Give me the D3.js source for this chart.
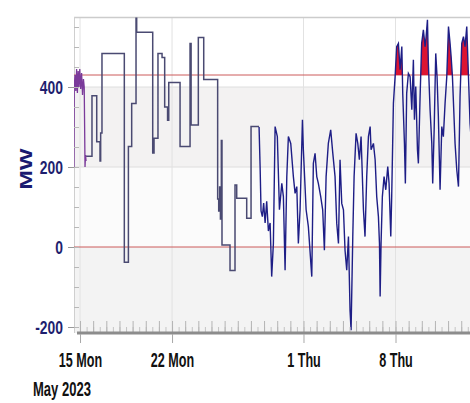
<!DOCTYPE html>
<html>
<head>
<meta charset="utf-8">
<script src="https://cdn.jsdelivr.net/npm/d3@7"></script>
<style>
  body { margin: 0; background: #fff; }
  svg { display: block; }
  text { font-family: "Liberation Sans", Arial, sans-serif; font-weight: bold; }
</style>
</head>
<body>
<svg id="chart" width="470" height="403"></svg>
<script>
// Times are day offsets from 15 May 2023 00:00, values in MW

// measured output, first hours of the period
const earlyDays = [-0.46, -0.44, -0.38, -0.32, -0.26, -0.20, -0.14, -0.08, -0.02, 0.05, 0.12, 0.19, 0.26, 0.32, 0.38, 0.42, 0.46];
const earlyMW   = [200, 400, 430, 390, 445, 385, 440, 400, 445, 395, 435, 380, 420, 400, 200, 230, 215];

// stepped schedule between the measured blocks
const stepDays = [0.46, 0.91, 1.27, 1.52, 1.57, 1.67, 3.37, 3.68, 3.93, 4.26, 4.31, 5.53, 5.63, 5.93, 6.24, 6.44, 6.66, 6.75,
                  7.61, 8.37, 8.45, 9.00, 9.41, 10.47, 10.55, 10.62, 10.68, 10.75, 10.80, 11.41, 11.79, 11.92, 12.68, 13.01, 13.62];
const stepMW   = [227, 378, 263, 215, 285, 484, -38, 251, 359, 572, 537, 235, 272, 484, 474, 350, 317, 411,
                  251, 509, 305, 524, 419, 120, 90, 150, 70, 266, 5, -59, 155, 122, 72, 301, 301];

// measured output, last weeks
const lateDays = [13.62, 13.70, 13.77, 13.87, 13.97, 14.08, 14.20, 14.33, 14.46, 14.58, 14.71, 14.84, 15.01, 15.17, 15.35, 15.47,
                  15.60, 15.73, 15.85, 16.03, 16.23, 16.36, 16.49, 16.61, 16.74, 16.92, 16.99, 17.20, 17.37, 17.63, 17.75, 17.88,
                  18.01, 18.13, 18.31, 18.46, 18.59, 18.72, 18.89, 19.07, 19.23, 19.40, 19.53, 19.66, 19.78, 19.91, 20.04, 20.16,
                  20.29, 20.42, 20.54, 20.62, 20.75, 20.85, 21.00, 21.13, 21.25, 21.38, 21.56, 21.68, 21.81, 21.94, 22.07, 22.14,
                  22.32, 22.45, 22.57, 22.70, 22.78, 22.83, 22.90, 23.00, 23.13, 23.26, 23.41, 23.51, 23.64, 23.71, 23.84, 23.97,
                  24.09, 24.22, 24.35, 24.48, 24.55, 24.68, 24.75, 24.85, 24.98, 25.11, 25.24, 25.36, 25.44, 25.54, 25.67, 25.74,
                  25.87, 25.99, 26.12, 26.25, 26.33, 26.43, 26.50, 26.63, 26.76, 26.83, 26.94, 27.06, 27.16, 27.26, 27.39, 27.52,
                  27.64, 27.77, 27.90, 28.03, 28.15, 28.23, 28.33, 28.43, 28.53, 28.66, 28.79, 28.91, 29.04, 29.17, 29.29, 29.42,
                  29.55, 29.67, 29.80];
const lateMW   = [300, 200, 90, 76, 110, 60, 114, 40, 60, -74, 9, 301, 276, 93, 159, 126,
                  -58, 176, 276, 259, 176, 134, 151, 9, 93, 318, 243, 93, 51, -74, 209, 234,
                  176, 159, 126, 93, -8, 176, 259, 293, 234, 176, 59, 9, 218, 109, 93, -8,
                  -58, 26, -158, -208, 26, 176, 284, 259, 218, 276, 93, 26, 176, 276, 301, 243,
                  259, 218, 126, 76, 9, -124, 9, 126, 176, 143, 201, 159, 26, 126, 359, 426,
                  501, 509, 443, 501, 384, 259, 159, 384, 434, 426, 343, 468, 318, 401, 243, 209,
                  376, 509, 543, 501, 526, 568, 459, 343, 259, 159, 293, 484, 426, 326, 143, 301,
                  276, 359, 426, 551, 509, 476, 426, 343, 259, 193, 151, 376, 509, 526, 501, 551,
                  426, 309, 250];

const limitMW = 430;
const yTickValues = [-200, 0, 200, 400];
const xTickDays = [0, 7, 17, 24];
const xTickLabels = ["15 Mon", "22 Mon", "1 Thu", "8 Thu"];
const periodLabel = "May 2023";
const unitLabel = "MW";

const baseDate = new Date(2023, 4, 15);
const toDate = (d) => new Date(baseDate.getTime() + d * 864e5);
const zip = (days, vals) => days.map((d, i) => ({ t: toDate(d), v: vals[i] }));

const early = zip(earlyDays, earlyMW);
const steps = zip(stepDays, stepMW);
const late = zip(lateDays, lateMW);

const svg = d3.select("#chart");
const plotLeft = 74, plotRight = 470, plotTop = 17, plotBottom = 333;

const x = d3.scaleTime()
  .domain([new Date(2023, 4, 14, 13), new Date(2023, 5, 13, 16)])
  .range([plotLeft, plotRight]);
const y = d3.scaleLinear().domain([-215, 575]).range([plotBottom, plotTop]);

// clip for everything inside the plot
const defs = svg.append("defs");
defs.append("clipPath").attr("id", "plot")
  .append("rect").attr("x", plotLeft).attr("y", plotTop)
  .attr("width", plotRight - plotLeft).attr("height", plotBottom - plotTop);
defs.append("clipPath").attr("id", "overLimit")
  .append("rect").attr("x", plotLeft).attr("y", plotTop)
  .attr("width", plotRight - plotLeft).attr("height", y(limitMW) - plotTop);

// alternating bands between major ticks
const bandEdges = [y.domain()[1]].concat(yTickValues.slice().reverse(), [y.domain()[0]]);
const bandFill = ["#ffffff", "#f3f2f2", "#fbfbfb", "#f3f3f3", "#f3f3f3"];
svg.append("g").attr("clip-path", "url(#plot)")
  .selectAll("rect").data(d3.pairs(bandEdges)).join("rect")
  .attr("x", plotLeft).attr("width", plotRight - plotLeft)
  .attr("y", (d) => y(d[0])).attr("height", (d) => y(d[1]) - y(d[0]))
  .attr("fill", (d, i) => bandFill[i]);

// grid lines
svg.append("g").selectAll("line").data(yTickValues.filter((v) => v > 0)).join("line")
  .attr("x1", plotLeft).attr("x2", plotRight).attr("y1", (d) => y(d)).attr("y2", (d) => y(d))
  .attr("stroke", "#dedede");
svg.append("g").selectAll("line").data(xTickDays.map(toDate)).join("line")
  .attr("x1", (d) => x(d)).attr("x2", (d) => x(d)).attr("y1", plotTop).attr("y2", plotBottom)
  .attr("stroke", "#e2e2e2");

// frame lines
svg.append("line").attr("x1", plotLeft).attr("x2", plotRight).attr("y1", plotTop + 0.5).attr("y2", plotTop + 0.5)
  .attr("stroke", "#cccccc").attr("stroke-width", 1.5);
svg.append("line").attr("x1", plotLeft + 0.5).attr("x2", plotLeft + 0.5).attr("y1", plotTop).attr("y2", plotBottom)
  .attr("stroke", "#cfcfcf");

// limit and zero lines
svg.append("g").selectAll("line").data([limitMW, 0]).join("line")
  .attr("x1", plotLeft).attr("x2", plotRight).attr("y1", (d) => y(d)).attr("y2", (d) => y(d))
  .attr("stroke", "#cc5a5a").attr("stroke-width", 1);

// data
const plot = svg.append("g").attr("clip-path", "url(#plot)");

const overArea = d3.area().x((d) => x(d.t)).y0(y(limitMW)).y1((d) => y(d.v));
[early, late].forEach((series) => {
  plot.append("g").attr("clip-path", "url(#overLimit)")
    .append("path").datum(series)
    .attr("fill", "#dc1432")
    .attr("d", overArea);
});

plot.append("path").datum(steps)
  .attr("fill", "none").attr("stroke", "#4a4a72").attr("stroke-width", 1.5)
  .attr("d", d3.line().curve(d3.curveStepAfter).x((d) => x(d.t)).y((d) => y(d.v)));

const measuredLine = d3.line().x((d) => x(d.t)).y((d) => y(d.v));
plot.append("path").datum(early)
  .attr("fill", "none").attr("stroke", "#7a3a9a").attr("stroke-width", 1.3)
  .attr("d", measuredLine);
plot.append("path").datum(late)
  .attr("fill", "none").attr("stroke", "#1e1e86").attr("stroke-width", 1.4)
  .attr("d", measuredLine);

// y axis: minor ticks inside, labelled ticks outside
svg.append("g").attr("transform", `translate(${plotLeft},0)`)
  .call(d3.axisRight(y).tickValues(d3.range(-200, 575, 50)).tickSize(5).tickFormat(""))
  .call((g) => g.select(".domain").remove())
  .call((g) => g.selectAll("line").attr("stroke", "#b8b8b8"));

const yAxis = svg.append("g").attr("transform", `translate(${plotLeft},0)`)
  .call(d3.axisLeft(y).tickValues(yTickValues).tickSize(6).tickFormat((d) => String(d)))
  .call((g) => g.select(".domain").remove());
yAxis.selectAll("line").attr("stroke", "#999");
yAxis.selectAll("text")
  .attr("x", -11 / 0.75).attr("dy", "0.34em")
  .attr("transform", "scale(0.75,1)")
  .attr("fill", "#1e1e6e").style("font-size", "18.5px");

// x axis: day and half-day ticks inside, thick base line, labelled ticks below
svg.append("g").attr("transform", `translate(0,${plotBottom - 1})`)
  .call(d3.axisTop(x).ticks(d3.timeHour.every(12)).tickSize(5).tickFormat(""))
  .call((g) => g.select(".domain").remove())
  .call((g) => g.selectAll("line").attr("stroke", "#c4c4c4"));
svg.append("g").attr("transform", `translate(0,${plotBottom - 1})`)
  .call(d3.axisTop(x).ticks(d3.timeDay.every(1)).tickSize(11).tickFormat(""))
  .call((g) => g.select(".domain").remove())
  .call((g) => g.selectAll("line").attr("stroke", "#b4b4b4"));

svg.append("line").attr("x1", plotLeft + 3).attr("x2", plotRight).attr("y1", plotBottom).attr("y2", plotBottom)
  .attr("stroke", "#8c8c8c").attr("stroke-width", 3);

const xAxis = svg.append("g").attr("transform", `translate(0,${plotBottom + 1})`)
  .call(d3.axisBottom(x).tickValues(xTickDays.map(toDate)).tickSize(9).tickFormat((d, i) => xTickLabels[i]))
  .call((g) => g.select(".domain").remove());
xAxis.selectAll("line").attr("stroke", "#a8a8a8");
xAxis.selectAll("text")
  .attr("y", 33.5).attr("dy", 0)
  .attr("transform", "scale(0.6,1)")
  .attr("fill", "#111").style("font-size", "21px");

svg.append("text")
  .attr("transform", "translate(33,396) scale(0.62,1)")
  .attr("fill", "#111").style("font-size", "21px")
  .text(periodLabel);

svg.append("text")
  .attr("transform", "translate(32,169) rotate(-90) scale(1.45,1)")
  .attr("text-anchor", "middle")
  .attr("fill", "#1a1a70").style("font-size", "16px")
  .text(unitLabel);
</script>
</body>
</html>
